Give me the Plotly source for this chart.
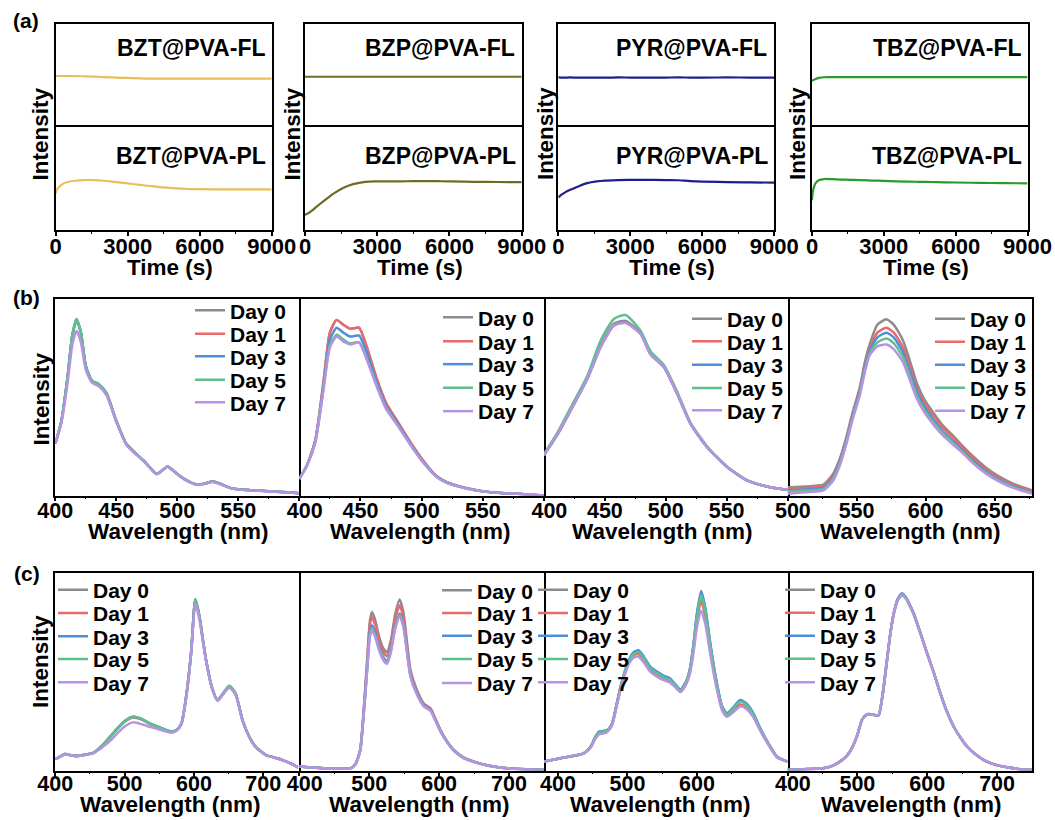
import plotly.graph_objects as go

# ---------------- DATA ----------------
# (a) time traces, normalised position inside each half-panel (0 = bottom, 1 = top)
time_s = [0, 50, 150, 300, 500, 800, 1200, 1600, 2000, 2500, 3000, 3500, 4000, 4500, 5000, 5500, 6000, 7000, 8000, 9000]
bzt_fl = [0.495, 0.495, 0.495, 0.495, 0.495, 0.494, 0.492, 0.489, 0.485, 0.48, 0.476, 0.472, 0.47, 0.47, 0.47, 0.47, 0.47, 0.47, 0.47, 0.47]
bzt_pl = [0.356, 0.39, 0.42, 0.448, 0.466, 0.478, 0.485, 0.484, 0.478, 0.465, 0.452, 0.438, 0.425, 0.413, 0.404, 0.398, 0.396, 0.395, 0.395, 0.395]
bzp_fl = [0.488, 0.488, 0.488, 0.488, 0.488, 0.488, 0.488, 0.488, 0.488, 0.488, 0.488, 0.488, 0.488, 0.488, 0.488, 0.488, 0.488, 0.488, 0.488, 0.488]
bzp_pl = [0.146, 0.152, 0.165, 0.19, 0.23, 0.285, 0.355, 0.41, 0.445, 0.468, 0.472, 0.473, 0.473, 0.474, 0.474, 0.474, 0.472, 0.468, 0.466, 0.465]
pyr_fl = [0.48, 0.481, 0.479, 0.48, 0.481, 0.479, 0.48, 0.48, 0.479, 0.481, 0.48, 0.48, 0.479, 0.48, 0.481, 0.48, 0.48, 0.481, 0.48, 0.48]
pyr_pl = [0.317, 0.327, 0.345, 0.368, 0.39, 0.42, 0.455, 0.472, 0.48, 0.485, 0.486, 0.486, 0.486, 0.485, 0.483, 0.475, 0.47, 0.465, 0.462, 0.46]
tbz_fl = [0.447, 0.455, 0.467, 0.477, 0.483, 0.484, 0.484, 0.484, 0.484, 0.484, 0.484, 0.484, 0.484, 0.484, 0.484, 0.484, 0.484, 0.484, 0.484, 0.484]
tbz_pl = [0.29, 0.39, 0.455, 0.485, 0.495, 0.494, 0.49, 0.487, 0.484, 0.48, 0.477, 0.473, 0.47, 0.468, 0.466, 0.463, 0.461, 0.458, 0.455, 0.453]
a_names = ["BZT", "BZP", "PYR", "TBZ"]
a_colors = ["#E9BE5E", "#6E6C22", "#1E1E8C", "#2A9A2A"]

day_labels = ["Day 0", "Day 1", "Day 3", "Day 5", "Day 7"]
day_colors = ["#8C8C8C", "#E86A6C", "#4E8FDC", "#5EC08C", "#B693E2"]

# (b) FL spectra
wl_b1 = [400, 405, 410, 414, 417.5, 421, 425, 430, 436, 442, 450, 458, 465, 472, 478, 483, 488, 492, 497, 503, 510, 517, 523, 529, 535, 545, 560, 575, 590, 600]
b1_day0 = [0.264, 0.38, 0.60, 0.82, 0.90, 0.83, 0.66, 0.585, 0.565, 0.52, 0.38, 0.265, 0.22, 0.18, 0.14, 0.11, 0.13, 0.148, 0.125, 0.095, 0.07, 0.055, 0.062, 0.071, 0.06, 0.036, 0.027, 0.022, 0.016, 0.012]
b1_day1 = [0.264, 0.38, 0.60, 0.815, 0.895, 0.828, 0.66, 0.585, 0.565, 0.52, 0.38, 0.265, 0.22, 0.18, 0.14, 0.11, 0.13, 0.148, 0.125, 0.095, 0.07, 0.055, 0.062, 0.071, 0.06, 0.036, 0.027, 0.022, 0.016, 0.012]
b1_day3 = [0.264, 0.38, 0.60, 0.815, 0.895, 0.828, 0.66, 0.585, 0.565, 0.52, 0.38, 0.265, 0.22, 0.18, 0.14, 0.11, 0.13, 0.148, 0.125, 0.095, 0.07, 0.055, 0.062, 0.071, 0.06, 0.036, 0.027, 0.022, 0.016, 0.012]
b1_day5 = [0.264, 0.38, 0.60, 0.82, 0.90, 0.83, 0.66, 0.585, 0.565, 0.52, 0.38, 0.265, 0.22, 0.18, 0.14, 0.11, 0.13, 0.148, 0.125, 0.095, 0.07, 0.055, 0.062, 0.071, 0.06, 0.036, 0.027, 0.022, 0.016, 0.012]
b1_day7 = [0.264, 0.37, 0.57, 0.77, 0.84, 0.78, 0.64, 0.575, 0.555, 0.51, 0.375, 0.26, 0.215, 0.178, 0.138, 0.108, 0.128, 0.146, 0.123, 0.093, 0.068, 0.054, 0.06, 0.069, 0.058, 0.035, 0.026, 0.021, 0.015, 0.011]

wl_b2 = [400, 406, 413, 420, 425, 430.5, 436, 441.5, 445, 449, 455, 463, 471, 480, 490, 501, 512, 520, 529, 540, 550, 565, 578, 590, 600]
b2_day0 = [0.085, 0.15, 0.28, 0.59, 0.83, 0.895, 0.87, 0.85, 0.853, 0.855, 0.76, 0.60, 0.47, 0.38, 0.28, 0.18, 0.10, 0.07, 0.05, 0.033, 0.022, 0.013, 0.009, 0.004, 0.0]
b2_day1 = [0.085, 0.15, 0.28, 0.59, 0.83, 0.895, 0.87, 0.85, 0.853, 0.855, 0.76, 0.60, 0.47, 0.38, 0.28, 0.18, 0.10, 0.07, 0.05, 0.033, 0.022, 0.013, 0.009, 0.004, 0.0]
b2_day3 = [0.085, 0.15, 0.275, 0.57, 0.795, 0.855, 0.83, 0.81, 0.813, 0.815, 0.73, 0.58, 0.455, 0.37, 0.272, 0.175, 0.098, 0.068, 0.049, 0.032, 0.021, 0.013, 0.009, 0.004, 0.0]
b2_day5 = [0.085, 0.15, 0.27, 0.555, 0.765, 0.82, 0.795, 0.775, 0.78, 0.78, 0.70, 0.565, 0.445, 0.362, 0.268, 0.172, 0.097, 0.067, 0.048, 0.032, 0.021, 0.013, 0.009, 0.004, 0.0]
b2_day7 = [0.085, 0.15, 0.268, 0.55, 0.755, 0.81, 0.785, 0.77, 0.775, 0.78, 0.695, 0.56, 0.44, 0.36, 0.265, 0.17, 0.096, 0.066, 0.048, 0.031, 0.021, 0.013, 0.009, 0.004, 0.0]

wl_b3 = [400, 411, 424.6, 435.6, 446.5, 457.4, 467, 479.3, 487.5, 498.4, 509.3, 520.3, 534, 550.4, 566.7, 585.8, 600]
b3_day0 = [0.21, 0.315, 0.47, 0.60, 0.765, 0.875, 0.89, 0.83, 0.725, 0.66, 0.525, 0.368, 0.248, 0.146, 0.077, 0.042, 0.029]
b3_day1 = [0.205, 0.31, 0.465, 0.595, 0.757, 0.867, 0.88, 0.825, 0.72, 0.655, 0.52, 0.366, 0.246, 0.145, 0.077, 0.042, 0.029]
b3_day3 = [0.205, 0.31, 0.465, 0.595, 0.757, 0.867, 0.882, 0.825, 0.72, 0.655, 0.52, 0.366, 0.246, 0.145, 0.077, 0.042, 0.029]
b3_day5 = [0.21, 0.32, 0.48, 0.61, 0.79, 0.90, 0.92, 0.84, 0.735, 0.665, 0.53, 0.372, 0.25, 0.147, 0.078, 0.042, 0.029]
b3_day7 = [0.205, 0.31, 0.465, 0.595, 0.757, 0.867, 0.88, 0.825, 0.72, 0.655, 0.52, 0.366, 0.246, 0.145, 0.077, 0.042, 0.029]

wl_b4 = [500, 510, 520, 526, 533, 538, 542.7, 547, 552.3, 556, 559.5, 565, 571.6, 577, 583.6, 588, 593.3, 599, 605.3, 612, 619.8, 627, 634.2, 644, 653.6, 665, 677]
b4_day0 = [0.042, 0.045, 0.05, 0.056, 0.11, 0.19, 0.30, 0.42, 0.55, 0.68, 0.77, 0.87, 0.898, 0.87, 0.79, 0.70, 0.58, 0.49, 0.425, 0.36, 0.305, 0.25, 0.20, 0.14, 0.095, 0.055, 0.026]
b4_day1 = [0.035, 0.038, 0.043, 0.049, 0.10, 0.18, 0.29, 0.41, 0.535, 0.66, 0.745, 0.83, 0.855, 0.83, 0.755, 0.67, 0.555, 0.47, 0.41, 0.348, 0.295, 0.24, 0.19, 0.13, 0.088, 0.05, 0.022]
b4_day3 = [0.025, 0.029, 0.034, 0.04, 0.09, 0.172, 0.28, 0.40, 0.527, 0.65, 0.735, 0.805, 0.83, 0.805, 0.73, 0.645, 0.535, 0.452, 0.39, 0.33, 0.278, 0.226, 0.177, 0.12, 0.078, 0.042, 0.016]
b4_day5 = [0.02, 0.024, 0.028, 0.034, 0.083, 0.165, 0.273, 0.392, 0.518, 0.64, 0.725, 0.78, 0.80, 0.775, 0.705, 0.62, 0.515, 0.437, 0.376, 0.32, 0.268, 0.22, 0.17, 0.114, 0.074, 0.038, 0.013]
b4_day7 = [0.009, 0.015, 0.02, 0.026, 0.075, 0.155, 0.265, 0.385, 0.51, 0.63, 0.715, 0.76, 0.77, 0.745, 0.68, 0.60, 0.50, 0.425, 0.365, 0.31, 0.26, 0.215, 0.165, 0.11, 0.07, 0.035, 0.01]

# (c) PL spectra
wl_c1 = [400, 407, 414, 422, 431, 443, 455, 467, 479, 490, 500, 512, 524, 536, 548, 560, 568, 575, 582, 589, 596, 602, 608, 613, 618, 626, 634, 642, 651, 660, 670, 680, 689, 704, 716, 728, 740, 750]
c1_day0 = [0.057, 0.07, 0.084, 0.078, 0.073, 0.08, 0.09, 0.125, 0.171, 0.215, 0.25, 0.272, 0.262, 0.239, 0.222, 0.205, 0.196, 0.205, 0.239, 0.38, 0.6, 0.867, 0.78, 0.66, 0.55, 0.42, 0.357, 0.39, 0.428, 0.39, 0.256, 0.17, 0.12, 0.078, 0.066, 0.053, 0.035, 0.016]
c1_day1 = [0.057, 0.07, 0.084, 0.078, 0.073, 0.08, 0.09, 0.124, 0.169, 0.213, 0.247, 0.269, 0.26, 0.237, 0.221, 0.204, 0.196, 0.205, 0.239, 0.38, 0.6, 0.865, 0.78, 0.66, 0.55, 0.42, 0.357, 0.39, 0.427, 0.39, 0.256, 0.17, 0.12, 0.078, 0.066, 0.053, 0.035, 0.016]
c1_day3 = [0.057, 0.07, 0.084, 0.078, 0.073, 0.08, 0.09, 0.125, 0.171, 0.215, 0.25, 0.272, 0.262, 0.239, 0.222, 0.205, 0.196, 0.205, 0.239, 0.38, 0.6, 0.867, 0.78, 0.66, 0.55, 0.42, 0.357, 0.39, 0.428, 0.39, 0.256, 0.17, 0.12, 0.078, 0.066, 0.053, 0.035, 0.016]
c1_day5 = [0.057, 0.07, 0.084, 0.078, 0.073, 0.08, 0.09, 0.125, 0.172, 0.216, 0.251, 0.273, 0.263, 0.24, 0.222, 0.205, 0.196, 0.205, 0.24, 0.382, 0.602, 0.87, 0.782, 0.662, 0.551, 0.421, 0.358, 0.391, 0.43, 0.391, 0.257, 0.17, 0.12, 0.078, 0.066, 0.053, 0.035, 0.016]
c1_day7 = [0.057, 0.07, 0.084, 0.078, 0.073, 0.078, 0.087, 0.115, 0.15, 0.19, 0.223, 0.244, 0.235, 0.222, 0.21, 0.198, 0.192, 0.202, 0.235, 0.372, 0.59, 0.847, 0.765, 0.65, 0.545, 0.415, 0.353, 0.385, 0.42, 0.385, 0.252, 0.168, 0.118, 0.077, 0.065, 0.052, 0.034, 0.016]

wl_c2 = [400, 435, 473, 480, 487, 492, 497, 501, 504, 508, 514, 520, 525.5, 531, 537, 543.6, 549, 554, 559, 568, 578, 587.6, 595, 602, 611, 621, 635, 650, 670, 698, 725, 750]
c2_day0 = [0.02, 0.011, 0.011, 0.03, 0.104, 0.3, 0.56, 0.76, 0.804, 0.77, 0.68, 0.62, 0.60, 0.66, 0.79, 0.867, 0.80, 0.65, 0.509, 0.41, 0.34, 0.315, 0.26, 0.205, 0.15, 0.104, 0.065, 0.045, 0.025, 0.011, 0.006, 0.003]
c2_day1 = [0.02, 0.011, 0.011, 0.03, 0.102, 0.295, 0.545, 0.74, 0.779, 0.745, 0.66, 0.60, 0.58, 0.64, 0.765, 0.838, 0.775, 0.635, 0.50, 0.405, 0.337, 0.313, 0.258, 0.203, 0.149, 0.103, 0.065, 0.045, 0.025, 0.011, 0.006, 0.003]
c2_day3 = [0.02, 0.011, 0.011, 0.03, 0.10, 0.285, 0.52, 0.705, 0.737, 0.705, 0.63, 0.575, 0.555, 0.615, 0.73, 0.796, 0.74, 0.61, 0.485, 0.395, 0.33, 0.308, 0.254, 0.2, 0.147, 0.102, 0.064, 0.044, 0.025, 0.011, 0.006, 0.003]
c2_day5 = [0.02, 0.011, 0.011, 0.03, 0.099, 0.28, 0.51, 0.69, 0.722, 0.692, 0.62, 0.567, 0.548, 0.607, 0.722, 0.788, 0.733, 0.605, 0.48, 0.39, 0.327, 0.305, 0.252, 0.198, 0.146, 0.101, 0.064, 0.044, 0.025, 0.011, 0.006, 0.003]
c2_day7 = [0.02, 0.011, 0.011, 0.03, 0.098, 0.278, 0.505, 0.68, 0.711, 0.683, 0.612, 0.56, 0.541, 0.6, 0.715, 0.782, 0.727, 0.6, 0.476, 0.387, 0.325, 0.303, 0.25, 0.197, 0.145, 0.1, 0.063, 0.043, 0.024, 0.011, 0.006, 0.003]

wl_c3 = [380, 404, 437, 447, 453, 459, 465, 471, 478, 484, 490, 496, 502, 509, 516, 523, 533, 543, 552, 560, 568, 576, 584, 590, 595, 600, 606, 612, 619, 627, 636, 643, 652, 662, 671, 681, 690, 700, 715, 730]
c3_day0 = [0.045, 0.062, 0.087, 0.12, 0.165, 0.196, 0.2, 0.205, 0.24, 0.33, 0.425, 0.5, 0.558, 0.598, 0.605, 0.578, 0.523, 0.498, 0.478, 0.468, 0.438, 0.408, 0.448, 0.518, 0.642, 0.797, 0.905, 0.816, 0.642, 0.468, 0.324, 0.289, 0.318, 0.355, 0.338, 0.289, 0.219, 0.153, 0.07, 0.045]
c3_day1 = [0.045, 0.062, 0.087, 0.118, 0.16, 0.19, 0.194, 0.2, 0.235, 0.322, 0.415, 0.49, 0.548, 0.585, 0.59, 0.562, 0.51, 0.483, 0.465, 0.455, 0.43, 0.4, 0.44, 0.505, 0.62, 0.765, 0.86, 0.78, 0.615, 0.45, 0.315, 0.28, 0.305, 0.335, 0.322, 0.277, 0.212, 0.148, 0.068, 0.045]
c3_day3 = [0.045, 0.062, 0.087, 0.12, 0.165, 0.196, 0.2, 0.205, 0.24, 0.33, 0.425, 0.5, 0.56, 0.6, 0.61, 0.58, 0.525, 0.5, 0.48, 0.47, 0.44, 0.41, 0.45, 0.52, 0.645, 0.8, 0.91, 0.82, 0.645, 0.47, 0.325, 0.29, 0.32, 0.357, 0.34, 0.29, 0.22, 0.153, 0.07, 0.045]
c3_day5 = [0.045, 0.062, 0.087, 0.12, 0.163, 0.193, 0.197, 0.203, 0.238, 0.327, 0.42, 0.495, 0.553, 0.592, 0.6, 0.572, 0.518, 0.492, 0.472, 0.462, 0.435, 0.405, 0.445, 0.515, 0.635, 0.785, 0.89, 0.805, 0.635, 0.462, 0.32, 0.285, 0.315, 0.35, 0.333, 0.285, 0.217, 0.151, 0.069, 0.045]
c3_day7 = [0.045, 0.062, 0.087, 0.115, 0.155, 0.183, 0.188, 0.195, 0.23, 0.318, 0.41, 0.482, 0.54, 0.573, 0.577, 0.55, 0.5, 0.475, 0.458, 0.448, 0.425, 0.398, 0.435, 0.495, 0.6, 0.73, 0.81, 0.74, 0.59, 0.435, 0.305, 0.272, 0.295, 0.325, 0.312, 0.27, 0.207, 0.145, 0.067, 0.045]

wl_c4 = [400, 430, 451, 465, 475, 484, 492, 500, 506.5, 512, 516, 521, 526, 530.4, 536, 542.4, 547, 552, 558, 564, 570, 575, 580.7, 590, 600, 610, 619, 628, 638, 648, 657.5, 670, 681, 697, 714.5, 730, 750]
c4_day0 = [0.003, 0.007, 0.011, 0.025, 0.045, 0.07, 0.112, 0.18, 0.256, 0.28, 0.286, 0.283, 0.28, 0.28, 0.38, 0.56, 0.69, 0.796, 0.87, 0.897, 0.875, 0.84, 0.796, 0.7, 0.593, 0.49, 0.39, 0.3, 0.222, 0.165, 0.12, 0.08, 0.053, 0.03, 0.016, 0.008, 0.003]
c4_day1 = [0.003, 0.007, 0.011, 0.025, 0.045, 0.07, 0.112, 0.18, 0.256, 0.28, 0.286, 0.283, 0.28, 0.28, 0.38, 0.56, 0.69, 0.795, 0.868, 0.894, 0.873, 0.838, 0.795, 0.7, 0.593, 0.49, 0.39, 0.3, 0.222, 0.165, 0.12, 0.08, 0.053, 0.03, 0.016, 0.008, 0.003]
c4_day3 = [0.003, 0.007, 0.011, 0.025, 0.045, 0.07, 0.112, 0.18, 0.256, 0.28, 0.286, 0.283, 0.28, 0.28, 0.38, 0.56, 0.69, 0.796, 0.87, 0.897, 0.875, 0.84, 0.796, 0.7, 0.593, 0.49, 0.39, 0.3, 0.222, 0.165, 0.12, 0.08, 0.053, 0.03, 0.016, 0.008, 0.003]
c4_day5 = [0.003, 0.007, 0.011, 0.025, 0.045, 0.07, 0.112, 0.18, 0.256, 0.28, 0.286, 0.283, 0.28, 0.28, 0.378, 0.555, 0.685, 0.79, 0.862, 0.889, 0.868, 0.834, 0.79, 0.697, 0.591, 0.489, 0.389, 0.3, 0.222, 0.165, 0.12, 0.08, 0.053, 0.03, 0.016, 0.008, 0.003]
c4_day7 = [0.003, 0.007, 0.011, 0.025, 0.045, 0.07, 0.112, 0.18, 0.256, 0.28, 0.286, 0.283, 0.28, 0.28, 0.38, 0.558, 0.688, 0.793, 0.866, 0.893, 0.872, 0.837, 0.793, 0.699, 0.592, 0.49, 0.39, 0.3, 0.222, 0.165, 0.12, 0.08, 0.053, 0.03, 0.016, 0.008, 0.003]

# axis ranges / ticks
a_xrange = [0, 9000]
a_ticks = [0, 3000, 6000, 9000]
a_minor = [1500, 4500, 7500]
b_ranges = [[400, 600], [400, 600], [400, 600], [500, 677]]
b_ticks = [[400, 450, 500, 550], [400, 450, 500, 550], [400, 450, 500, 550], [500, 550, 600, 650]]
b_minor = [[425, 475, 525, 575], [425, 475, 525, 575], [425, 475, 525, 575], [525, 575, 625, 675]]
c_ranges = [[400, 752], [400, 750], [380, 730], [400, 750]]
c_ticks = [[400, 500, 600, 700], [400, 500, 600, 700], [400, 500, 600], [400, 500, 600, 700]]
c_minor = [[450, 550, 650], [450, 550, 650], [450, 550, 650], [450, 550, 650]]

# ---------------- LAYOUT ----------------
W, H = 1055, 820
FONT = "Liberation Sans, Arial, sans-serif"
LW = 1.6
NUDGE = "\u2002"  # labels sitting on a shared panel border are nudged right, as in the original


def px(x):
    return x / W


def py(y):
    return 1 - y / H


fig = go.Figure()
layout = {}
counter = [0]


def add_axes(x0, x1, ytop, ybot, xr, ticks=None, minor=None, top_only=False,
             right_only=False, standoff=-8, tsize=22, nudge_first=False):
    counter[0] += 1
    n = counter[0]
    s = "" if n == 1 else str(n)
    xa = dict(domain=[px(x0), px(x1)], range=xr, anchor="y" + s, automargin=False,
              showline=True, linecolor="black", linewidth=LW, mirror=not top_only,
              showgrid=False, zeroline=False, fixedrange=True)
    if top_only:
        xa.update(side="top")
    if ticks:
        labels = [str(v) for v in ticks]
        if nudge_first:
            labels[0] = NUDGE + labels[0]
        xa.update(ticks="outside", tickmode="array", tickvals=ticks, ticktext=labels,
                  ticklen=4, tickwidth=1.5, tickcolor="black", showticklabels=True,
                  ticklabelstandoff=standoff,
                  tickfont=dict(family=FONT, size=tsize, color="black", weight="bold"),
                  minor=dict(tickmode="array", tickvals=minor, ticks="outside",
                             ticklen=2, tickwidth=1.2, tickcolor="black"))
    else:
        xa.update(ticks="", showticklabels=False)
    ya = dict(domain=[py(ybot), py(ytop)], range=[0, 1], anchor="x" + s, automargin=False,
              showline=True, linecolor="black", linewidth=LW, mirror=not right_only,
              showgrid=False, zeroline=False, ticks="", showticklabels=False,
              fixedrange=True)
    if right_only:
        ya.update(side="right")
    layout["xaxis" + s] = xa
    layout["yaxis" + s] = ya
    return "x" + s, "y" + s


annotations = []


def text(x, y, t, size=22, xanchor="center", angle=0):
    annotations.append(dict(x=px(x), y=py(y), xref="paper", yref="paper", text=t,
                            showarrow=False, xanchor=xanchor, yanchor="middle",
                            textangle=angle,
                            font=dict(family=FONT, size=size, color="black", weight="bold")))


# ---- row (a)
a_x = [(55.7, 271.7), (305, 521.7), (558.3, 774.3), (812, 1027.5)]
a_fl = [bzt_fl, bzp_fl, pyr_fl, tbz_fl]
a_pl = [bzt_pl, bzp_pl, pyr_pl, tbz_pl]
a_int_x = [39.5, 291.5, 545, 797]
a_title_x = [170, 420, 672, 926]
for i in range(4):
    x0, x1 = a_x[i]
    xt, yt = add_axes(x0, x1, 24, 127, a_xrange, top_only=True)
    fig.add_trace(go.Scatter(x=time_s, y=a_fl[i], mode="lines", xaxis=xt, yaxis=yt,
                             line=dict(color=a_colors[i], width=2.2, shape="spline"),
                             showlegend=False))
    xb, yb = add_axes(x0, x1, 127, 230, a_xrange, a_ticks, a_minor)
    fig.add_trace(go.Scatter(x=time_s, y=a_pl[i], mode="lines", xaxis=xb, yaxis=yb,
                             line=dict(color=a_colors[i], width=2.2, shape="spline"),
                             showlegend=False))
    text(x1 - 5, 48, a_names[i] + "@PVA-FL", size=23, xanchor="right")
    text(x1 - 4, 156, a_names[i] + "@PVA-PL", size=23, xanchor="right")
    text(a_int_x[i], 134, "Intensity", size=22.5, angle=-90)
    text(a_title_x[i], 267, "Time (s)", size=22.5)

# ---- rows (b), (c)
panel_x = [(55.3, 299.3), (299.3, 544), (544, 787.5), (787.5, 1032)]
b_wl = [wl_b1, wl_b2, wl_b3, wl_b4]
b_days = [[b1_day0, b1_day1, b1_day3, b1_day5, b1_day7],
          [b2_day0, b2_day1, b2_day3, b2_day5, b2_day7],
          [b3_day0, b3_day1, b3_day3, b3_day5, b3_day7],
          [b4_day0, b4_day1, b4_day3, b4_day5, b4_day7]]
c_wl = [wl_c1, wl_c2, wl_c3, wl_c4]
c_days = [[c1_day0, c1_day1, c1_day3, c1_day5, c1_day7],
          [c2_day0, c2_day1, c2_day3, c2_day5, c2_day7],
          [c3_day0, c3_day1, c3_day3, c3_day5, c3_day7],
          [c4_day0, c4_day1, c4_day3, c4_day5, c4_day7]]

# legend entry placement: left x of the entry text, and centre y of each entry
b_leg_x = [230, 478, 727, 970]
b_leg_y = [[310.7, 334, 356.7, 380, 402.7], [317.7, 341.7, 364.5, 388, 411.5],
           [319, 341.7, 365, 388.3, 410.7], [319, 342, 365, 388, 411]]
c_leg_x = [93, 477, 573, 820]
c_leg_y = [[590, 613.3, 636.7, 659.3, 682.7], [590.7, 613.3, 636, 659.3, 683.3],
           [590, 613.3, 636, 659.3, 682.7], [590, 613, 636, 659, 682.7]]
b_title_x = [178, 420, 662, 910]
c_title_x = [170, 419, 660, 911]
b_nudge = [False, True, True, True]
c_nudge = [False, True, False, True]

legend_n = [0]


def spectra_row(ytop, ybot, wls, days, ranges, ticks, minors, leg_x, leg_y, title_x, title_y,
                standoff, nudges):
    for i in range(4):
        x0, x1 = panel_x[i]
        xa, ya = add_axes(x0, x1, ytop, ybot, ranges[i], ticks[i], minors[i],
                          right_only=(i > 0), standoff=standoff, tsize=21.5,
                          nudge_first=nudges[i])
        for d in range(5):
            legend_n[0] += 1
            lname = "legend" if legend_n[0] == 1 else "legend" + str(legend_n[0])
            fig.add_trace(go.Scatter(x=wls[i], y=days[i][d], mode="lines", name=day_labels[d],
                                     xaxis=xa, yaxis=ya, legend=lname,
                                     line=dict(color=day_colors[d], width=2.5, shape="spline",
                                               smoothing=0.6)))
            layout[lname] = dict(x=px(leg_x[i] - 40), y=py(leg_y[i][d]), xanchor="left",
                                 yanchor="middle", bgcolor="rgba(0,0,0,0)", borderwidth=0,
                                 font=dict(family=FONT, size=21, color="black", weight="bold"),
                                 itemwidth=30)
        text(title_x[i], title_y, "Wavelength (nm)", size=22.5)


spectra_row(299.3, 495.5, b_wl, b_days, b_ranges, b_ticks, b_minor, b_leg_x, b_leg_y,
            b_title_x, 531, -9, b_nudge)
spectra_row(573.3, 770.5, c_wl, c_days, c_ranges, c_ticks, c_minor, c_leg_x, c_leg_y,
            c_title_x, 804, -11, c_nudge)

text(40.5, 399, "Intensity", size=22.5, angle=-90)
text(40, 662, "Intensity", size=22.5, angle=-90)
text(11, 20, "(a)", size=21, xanchor="left")
text(11, 297, "(b)", size=21, xanchor="left")
text(12, 573, "(c)", size=21, xanchor="left")

fig.update_layout(width=W, height=H,
                  margin=dict(l=0, r=0, t=0, b=0, pad=0, autoexpand=False),
                  paper_bgcolor="white", plot_bgcolor="rgba(0,0,0,0)",
                  annotations=annotations, **layout)

fig.write_html("out.html")
